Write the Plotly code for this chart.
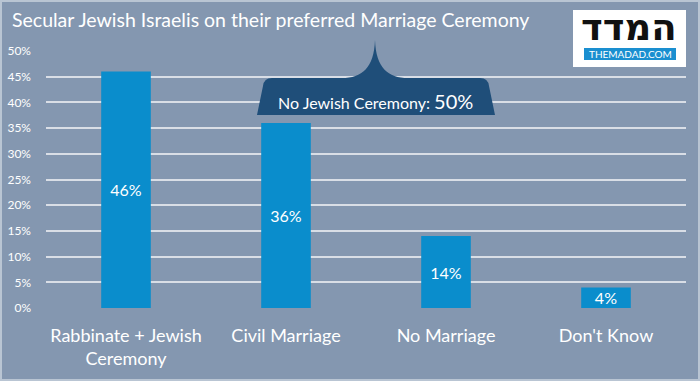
import plotly.graph_objects as go

# ---- data ----
categories = ["Rabbinate + Jewish<br>Ceremony", "Civil Marriage", "No Marriage", "Don't Know"]
values = [46, 36, 14, 4]
tick_vals = [0, 5, 10, 15, 20, 25, 30, 35, 40, 45, 50]
tick_text = [f"{v}%" for v in tick_vals]
title_text = "Secular Jewish Israelis on their preferred Marriage Ceremony"
callout_label = "No Jewish Ceremony: "
callout_value = "50%"

# ---- layout geometry ----
W, H = 700, 381
PL, PR, PT, PB = 46, 14, 51, 73
pw, ph = W - PL - PR, H - PT - PB

def px(X):
    return (X - PL) / pw

def py(Y):
    return (H - PB - Y) / ph

BG = "#8497b0"
BAR = "#0a8dcc"
NAVY = "#1f4e79"
FONT = "Lato"

fig = go.Figure()
fig.add_trace(go.Bar(
    x=categories, y=values,
    marker=dict(color=BAR, line=dict(width=0)),
    texttemplate="%{y}%",
    textposition="inside",
    insidetextanchor="middle",
    constraintext="none",
    textfont=dict(family=FONT, size=16, color="white"),
    width=0.31,
    hoverinfo="skip",
))

# callout shape (pixel coords converted to paper)
pts = [
    ("M", [(375, 40)]),
    ("C", [(374, 68), (362, 78), (342, 78)]),
    ("L", [(272, 78)]),
    ("Q", [(264, 78), (263, 86)]),
    ("L", [(257, 115)]),
    ("L", [(495, 115)]),
    ("L", [(489, 86)]),
    ("Q", [(488, 78), (480, 78)]),
    ("L", [(408, 78)]),
    ("C", [(388, 78), (376, 68), (375, 40)]),
]
path = ""
for cmd, ps in pts:
    path += cmd + " " + " ".join(f"{px(a):.5f},{py(b):.5f}" for a, b in ps) + " "
path += "Z"

shapes = [
    dict(type="path", path=path, xref="paper", yref="paper",
         fillcolor=NAVY, line=dict(width=0), layer="above"),
    # logo box
    dict(type="rect", xref="paper", yref="paper",
         x0=px(573), x1=px(686), y0=py(67), y1=py(10),
         fillcolor="white", line=dict(width=0), layer="above"),
    dict(type="rect", xref="paper", yref="paper",
         x0=px(584), x1=px(676), y0=py(60), y1=py(48),
         fillcolor="#1a8fd0", line=dict(width=0), layer="above"),
    # frame
    dict(type="rect", xref="paper", yref="paper",
         x0=px(1), x1=px(699), y0=py(380), y1=py(1),
         fillcolor="rgba(0,0,0,0)", line=dict(width=2, color="#b9c5d3"), layer="below"),
]

annotations = [
    dict(text=title_text, xref="paper", yref="paper", x=px(10), y=py(20),
         xanchor="left", yanchor="middle", showarrow=False,
         font=dict(family=FONT, size=19.5, color="white")),
    dict(text=f"{callout_label}<span style='font-size:20px'>{callout_value}</span>",
         xref="paper", yref="paper", x=px(375), y=py(101),
         xanchor="center", yanchor="middle", showarrow=False,
         font=dict(family=FONT, size=16, color="white")),
    dict(text="<b>המדד</b>", xref="paper", yref="paper", x=px(629), y=py(27),
         xanchor="center", yanchor="middle", showarrow=False, height=34,
         font=dict(family="DejaVu Sans", size=37, color="#111111")),
    dict(text="THEMADAD.COM", xref="paper", yref="paper", x=px(630), y=py(54),
         xanchor="center", yanchor="middle", showarrow=False,
         font=dict(family=FONT, size=10, color="white")),
]

fig.update_layout(
    width=W, height=H,
    margin=dict(l=PL, r=PR, t=PT, b=PB, pad=0, autoexpand=False),
    paper_bgcolor=BG, plot_bgcolor=BG,
    showlegend=False,
    bargap=0.69,
    uniformtext=dict(minsize=16, mode="show"),
    shapes=shapes,
    annotations=annotations,
    xaxis=dict(
        showgrid=False, showline=False, zeroline=False, ticks="",
        tickfont=dict(family=FONT, size=18, color="white"),
        ticklabelstandoff=15, automargin=False,
        range=[-0.5, 3.5],
    ),
    yaxis=dict(
        range=[0, 50], tickvals=tick_vals, ticktext=tick_text,
        showgrid=True, gridcolor="#d9dee6", gridwidth=2,
        zeroline=False, showline=False, ticks="",
        tickfont=dict(family=FONT, size=12, color="white"),
        ticklabelstandoff=14, automargin=False,
    ),
)

fig.write_html(
    "out.html",
    config={"displayModeBar": False, "staticPlot": True},
    post_script="document.body.style.margin='0';document.body.style.overflow='hidden';",
)
